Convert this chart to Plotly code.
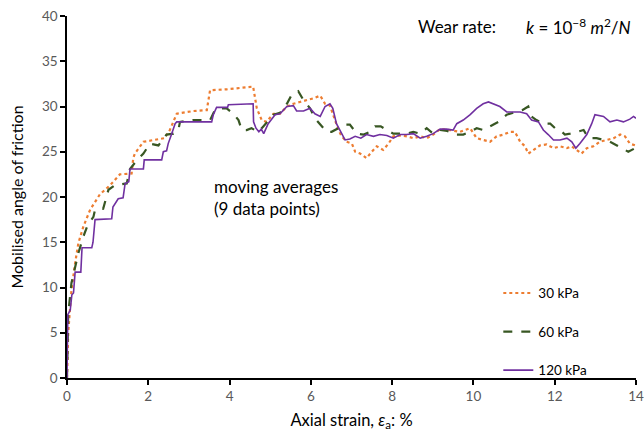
import plotly.graph_objects as go

# 30 kPa (orange, dotted)
x30 = [0, 0.03, 0.06, 0.11, 0.2, 0.28, 0.4, 0.57, 0.81, 1.06, 1.3, 1.59, 1.63, 1.67, 1.88, 2.2, 2.4, 2.53, 2.7, 3.11, 3.44, 3.52, 3.93, 4.58, 4.67, 4.79, 4.91, 5.08, 5.24, 5.41, 5.57, 5.73, 5.9, 6.06, 6.23, 6.35, 6.47, 6.59, 6.68, 6.76, 6.88, 7.01, 7.09, 7.21, 7.37, 7.5, 7.62, 7.78, 7.91, 8.03, 8.2, 8.36, 8.52, 8.69, 8.85, 9.01, 9.18, 9.42, 9.67, 9.92, 10.08, 10.24, 10.41, 10.57, 10.74, 10.9, 11.02, 11.15, 11.27, 11.35, 11.47, 11.64, 11.8, 11.97, 12.13, 12.3, 12.42, 12.54, 12.66, 12.79, 12.95, 13.11, 13.28, 13.45, 13.61, 13.73, 13.85, 13.98]
y30 = [0, 5.0, 6.8, 9.7, 12.7, 14.9, 16.7, 18.6, 20.3, 21.3, 22.5, 22.6, 24.3, 24.8, 26.1, 26.3, 26.5, 27.4, 29.2, 29.5, 29.6, 31.8, 31.9, 32.2, 29.8, 28.5, 28.3, 29.2, 29.2, 30.0, 30.3, 30.5, 30.7, 30.9, 31.2, 30.3, 30.1, 28.5, 27.4, 26.7, 26.1, 25.9, 25.0, 24.8, 24.3, 25.0, 25.6, 25.2, 25.9, 26.7, 26.8, 26.7, 26.5, 26.7, 26.5, 26.9, 27.5, 27.4, 27.2, 27.6, 26.5, 26.3, 26.1, 26.7, 26.9, 27.2, 27.2, 26.1, 25.6, 24.8, 25.2, 25.7, 25.8, 25.4, 25.6, 25.4, 25.6, 25.2, 24.8, 25.4, 25.6, 26.1, 26.3, 26.5, 26.9, 26.7, 25.9, 25.7]

# 60 kPa (green, dashed)
x60 = [0, 0.01, 0.03, 0.11, 0.2, 0.28, 0.4, 0.5, 0.65, 0.69, 0.89, 1.02, 1.18, 1.47, 1.55, 1.71, 1.88, 2.04, 2.25, 2.45, 2.62, 2.74, 2.78, 3.11, 3.52, 3.64, 3.76, 3.93, 4.09, 4.22, 4.3, 4.42, 4.54, 4.71, 4.83, 4.95, 5.08, 5.24, 5.41, 5.53, 5.69, 5.82, 5.98, 6.1, 6.23, 6.39, 6.51, 6.67, 6.84, 6.96, 7.13, 7.3, 7.46, 7.58, 7.72, 7.87, 8.03, 8.2, 8.36, 8.52, 8.69, 8.85, 9.01, 9.18, 9.35, 9.59, 9.75, 9.92, 10.08, 10.24, 10.41, 10.61, 10.82, 11.02, 11.2, 11.35, 11.43, 11.55, 11.72, 11.89, 12.01, 12.13, 12.25, 12.38, 12.54, 12.71, 12.83, 13.03, 13.2, 13.36, 13.53, 13.65, 13.81, 13.98]
y60 = [0, 4.0, 7.1, 10.5, 12.3, 13.8, 15.6, 16.8, 17.8, 18.6, 18.7, 20.8, 21.3, 21.5, 23.1, 24.0, 24.8, 25.9, 25.7, 26.9, 27.0, 27.4, 28.3, 28.5, 28.5, 29.6, 29.8, 29.8, 29.2, 28.5, 27.4, 27.4, 27.6, 27.2, 27.8, 28.4, 29.1, 29.3, 30.3, 31.3, 31.7, 30.7, 29.8, 28.7, 28.0, 27.2, 27.2, 27.6, 28.0, 28.0, 27.0, 26.9, 27.2, 27.8, 27.8, 27.4, 27.0, 27.0, 27.0, 27.2, 27.0, 27.6, 27.0, 27.4, 27.3, 26.9, 26.9, 27.2, 27.6, 27.4, 27.8, 28.3, 29.1, 29.4, 29.6, 30.0, 28.9, 28.5, 28.1, 28.1, 27.6, 27.4, 26.9, 27.0, 27.2, 27.4, 26.5, 26.5, 26.3, 26.1, 25.7, 25.4, 25.0, 25.4]

# 120 kPa (purple, solid)
x120 = [0, 0.02, 0.08, 0.12, 0.16, 0.2, 0.34, 0.37, 0.61, 0.64, 0.69, 1.1, 1.13, 1.26, 1.38, 1.43, 1.52, 1.55, 1.88, 1.9, 2.33, 2.37, 2.45, 2.49, 2.57, 2.66, 2.7, 3.56, 3.6, 3.64, 3.68, 3.95, 3.97, 4.58, 4.59, 4.65, 4.72, 4.78, 4.84, 4.95, 5.04, 5.12, 5.24, 5.41, 5.57, 5.65, 5.82, 5.98, 6.1, 6.23, 6.35, 6.47, 6.54, 6.63, 6.76, 6.84, 6.96, 7.09, 7.23, 7.37, 7.54, 7.7, 7.87, 8.03, 8.2, 8.36, 8.52, 8.69, 8.85, 9.01, 9.18, 9.34, 9.5, 9.59, 9.75, 9.92, 10.08, 10.24, 10.37, 10.49, 10.65, 10.82, 10.98, 11.15, 11.31, 11.43, 11.6, 11.72, 11.84, 11.97, 12.13, 12.3, 12.42, 12.52, 12.62, 12.79, 12.91, 12.99, 13.2, 13.36, 13.53, 13.69, 13.85, 13.94, 14.0]
y120 = [0, 7.0, 7.5, 9.2, 9.4, 11.7, 11.7, 14.4, 14.4, 15.0, 17.5, 17.6, 18.9, 19.8, 19.9, 21.5, 21.7, 23.1, 23.1, 24.1, 24.1, 25.0, 25.1, 25.9, 26.9, 28.1, 28.3, 28.3, 29.1, 29.6, 29.9, 29.9, 30.2, 30.3, 28.3, 27.6, 27.2, 27.5, 27.0, 28.1, 28.7, 29.1, 29.2, 30.0, 30.1, 29.5, 29.5, 29.8, 29.2, 28.9, 30.0, 30.3, 29.8, 28.1, 27.0, 26.3, 26.4, 26.7, 26.5, 26.9, 26.7, 26.9, 26.8, 26.5, 26.9, 26.9, 27.0, 26.5, 26.7, 27.0, 27.5, 27.5, 27.4, 28.1, 28.5, 29.1, 29.8, 30.3, 30.5, 30.3, 30.0, 29.4, 29.4, 29.4, 29.2, 28.5, 28.3, 27.4, 26.9, 26.3, 26.3, 26.5, 26.1, 25.4, 25.9, 26.9, 28.1, 29.1, 28.9, 28.3, 28.5, 28.3, 28.6, 28.9, 28.7]

x_ticks = [0, 2, 4, 6, 8, 10, 12, 14]
y_ticks = [0, 5, 10, 15, 20, 25, 30, 35, 40]

FONT = "Lato"

fig = go.Figure()
fig.add_trace(go.Scatter(x=x30, y=y30, mode="lines", name="30 kPa", legendgroup="a",
                         line=dict(color="#ED7D31", width=2.2, dash="dot")))
fig.add_trace(go.Scatter(x=x60, y=y60, mode="lines", name="60 kPa", legendgroup="b",
                         line=dict(color="#385723", width=2.2, dash="dash")))
fig.add_trace(go.Scatter(x=x120, y=y120, mode="lines", name="120 kPa", legendgroup="c",
                         line=dict(color="#7030A0", width=1.6)))

fig.update_layout(
    width=644, height=431,
    margin=dict(l=67, r=8, t=16, b=53),
    plot_bgcolor="white", paper_bgcolor="white",
    font=dict(family=FONT, size=13, color="#000000"),
    showlegend=True,
    legend=dict(x=0.758, y=0.277, xanchor="left", yanchor="top",
                bgcolor="rgba(0,0,0,0)", tracegroupgap=18,
                font=dict(family=FONT, size=13.5, color="#000000"),
                itemwidth=30),
    xaxis=dict(range=[0, 14], tickvals=x_ticks, showgrid=False, zeroline=False,
               automargin=False,
               showline=True, linecolor="black", linewidth=1.5,
               ticks="outside", ticklen=5, tickcolor="black", tickwidth=1.5,
               tickfont=dict(family=FONT, size=13.5, color="#595959"),
               title=dict(text="Axial strain, <i>ε</i><sub>a</sub>: %",
                          font=dict(family=FONT, size=16.5, color="#000000"), standoff=12)),
    yaxis=dict(range=[0, 40], tickvals=y_ticks, showgrid=False, zeroline=False,
               automargin=False,
               showline=True, linecolor="black", linewidth=1.5,
               ticks="outside", ticklen=5, tickcolor="black", tickwidth=1.5,
               tickfont=dict(family=FONT, size=13.5, color="#595959"),
               title=dict(text="Mobilised angle of friction",
                          font=dict(family=FONT, size=16, color="#000000"), standoff=14)),
)

fig.add_annotation(x=0.614, y=0.97, xref="paper", yref="paper", xanchor="left", yanchor="middle",
                   text="Wear rate:", showarrow=False, font=dict(family=FONT, size=17))
fig.add_annotation(x=0.803, y=0.97, xref="paper", yref="paper", xanchor="left", yanchor="middle",
                   text="<i>k</i> = 10<sup>−8</sup> <i>m</i><sup>2</sup>/<i>N</i>", showarrow=False,
                   font=dict(family=FONT, size=17))
fig.add_annotation(x=0.254, y=0.499, xref="paper", yref="paper", xanchor="left", yanchor="middle",
                   text="moving averages<br>(9 data points)", showarrow=False, align="left",
                   font=dict(family=FONT, size=17))

fig.write_html("out.html")
